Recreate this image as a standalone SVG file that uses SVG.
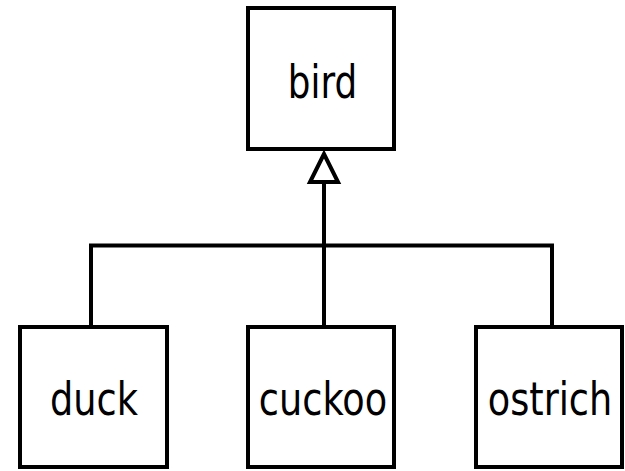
<svg xmlns="http://www.w3.org/2000/svg" width="625" height="471" viewBox="0 0 625 471">
  <style>
    .box { fill: #ffffff; stroke: #000000; stroke-width: 4; }
    .label { font-family: "DejaVu Sans", sans-serif; font-size: 47px; fill: #000000; text-anchor: middle; }
    .line { fill: none; stroke: #000000; stroke-width: 4; }
    .head { fill: #ffffff; stroke: #000000; stroke-width: 4; stroke-linejoin: miter; }
  </style>
  <rect width="625" height="471" fill="#ffffff"/>
  <g id="connectors">
    <polyline class="line" points="91,326 91,245.5 552,245.5 552,326"/>
    <line class="line" x1="324" y1="326" x2="324" y2="182"/>
    <polygon class="head" points="324,154 310,182 338,182"/>
  </g>
  <g id="bird">
    <rect class="box" x="248" y="8" width="146" height="141"/>
    <text class="label" transform="translate(322.5,98) scale(0.76,1)">bird</text>
  </g>
  <g id="duck">
    <rect class="box" x="20" y="327" width="147" height="140"/>
    <text class="label" transform="translate(94,415) scale(0.78,1)">duck</text>
  </g>
  <g id="cuckoo">
    <rect class="box" x="248" y="327" width="146" height="140"/>
    <text class="label" transform="translate(323,415) scale(0.78,1)">cuckoo</text>
  </g>
  <g id="ostrich">
    <rect class="box" x="476" y="327" width="146" height="140"/>
    <text class="label" transform="translate(550,415) scale(0.78,1)">ostrich</text>
  </g>
</svg>
